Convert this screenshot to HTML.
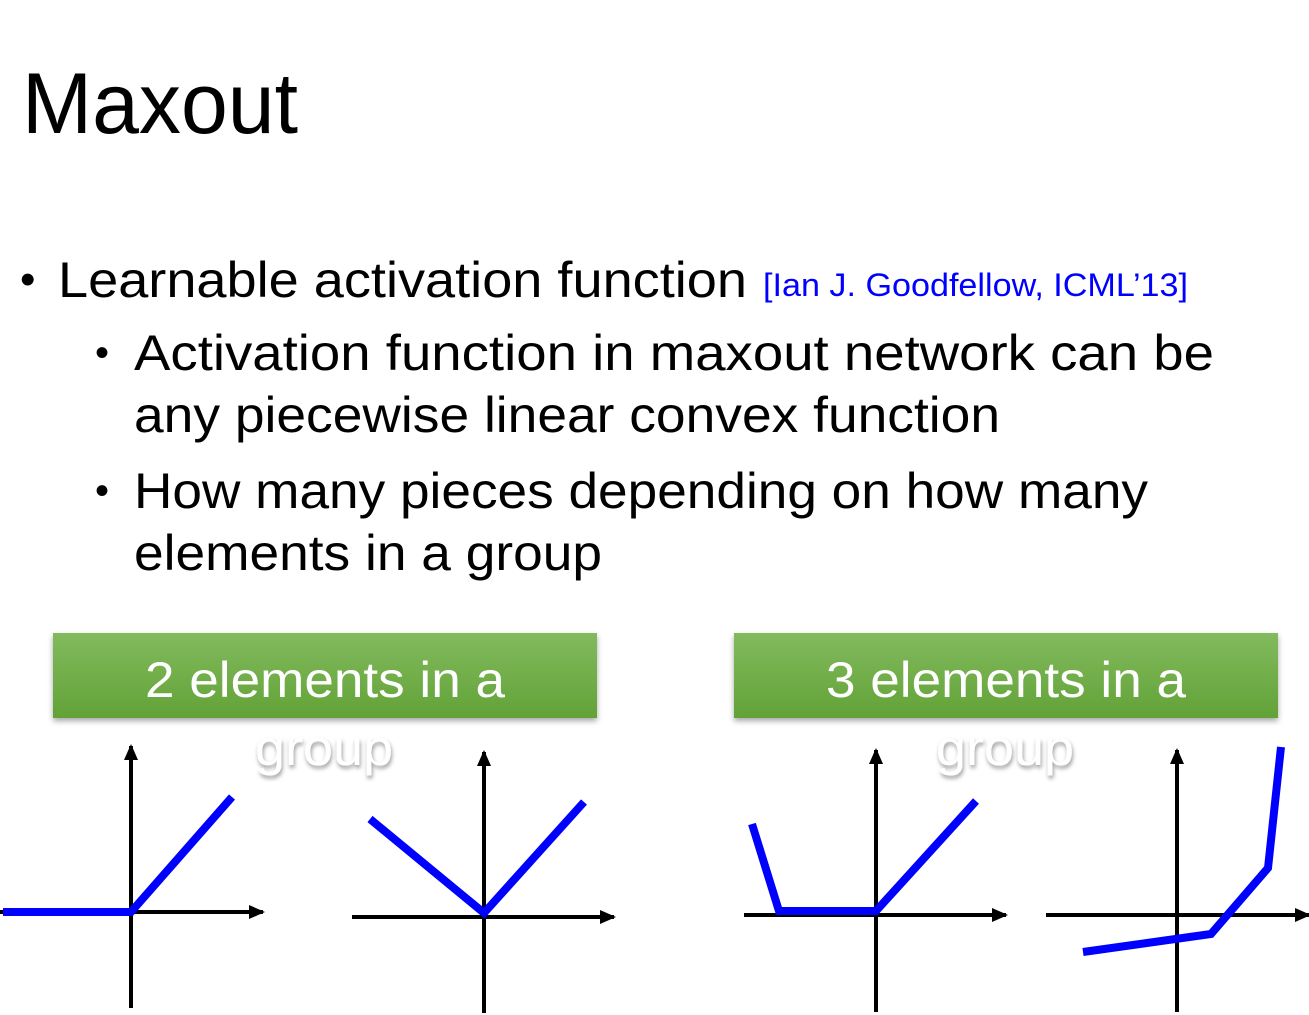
<!DOCTYPE html>
<html><head><meta charset="utf-8"><style>
html,body{margin:0;padding:0;background:#fff;width:1309px;height:1015px;overflow:hidden}
svg{display:block}
</style></head><body>
<svg width="1309" height="1015" viewBox="0 0 1309 1015" xmlns="http://www.w3.org/2000/svg" font-family="'Liberation Sans', sans-serif">
<defs>
<linearGradient id="g" x1="0" y1="0" x2="0" y2="1"><stop offset="0" stop-color="#82ba5e"/><stop offset="1" stop-color="#62a237"/></linearGradient>
<filter id="sh" x="-10%" y="-20%" width="120%" height="150%"><feDropShadow dx="0" dy="3" stdDeviation="3" flood-color="#000" flood-opacity="0.35"/></filter>
<filter id="ts"><feDropShadow dx="1" dy="3" stdDeviation="2" flood-color="#000" flood-opacity="0.4"/></filter>
<marker id="a" markerWidth="16" markerHeight="14" refX="14" refY="7" orient="auto" markerUnits="userSpaceOnUse"><path d="M0,0 L16,7 L0,14 z" fill="#000"/></marker>
</defs>
<text x="22" y="133" font-size="86" textLength="276" lengthAdjust="spacingAndGlyphs" fill="#000">Maxout</text>
<text x="20" y="294" font-size="44">•</text>
<text x="58" y="297" font-size="50" textLength="689" lengthAdjust="spacingAndGlyphs">Learnable activation function</text>
<text x="763" y="296" font-size="32" fill="#0000ff" textLength="425" lengthAdjust="spacingAndGlyphs">[Ian J. Goodfellow, ICML’13]</text>
<text x="95" y="366" font-size="40">•</text>
<text x="134" y="370" font-size="50" textLength="1080" lengthAdjust="spacingAndGlyphs">Activation function in maxout network can be</text>
<text x="134" y="432" font-size="50" textLength="866" lengthAdjust="spacingAndGlyphs">any piecewise linear convex function</text>
<text x="95" y="504" font-size="40">•</text>
<text x="134" y="508" font-size="50" textLength="1014" lengthAdjust="spacingAndGlyphs">How many pieces depending on how many</text>
<text x="134" y="570" font-size="50" textLength="468" lengthAdjust="spacingAndGlyphs">elements in a group</text>

<rect x="53" y="633" width="544" height="85" fill="url(#g)" filter="url(#sh)"/>
<rect x="734" y="633" width="544" height="85" fill="url(#g)" filter="url(#sh)"/>
<text x="145" y="697" font-size="50" fill="#fff" textLength="360" lengthAdjust="spacingAndGlyphs">2 elements in a</text>
<text x="826" y="697" font-size="50" fill="#fff" textLength="360" lengthAdjust="spacingAndGlyphs">3 elements in a</text>

<g stroke="#000" stroke-width="4" fill="none">
<line x1="131" y1="1008" x2="131" y2="746" marker-end="url(#a)"/>
<line x1="0" y1="912" x2="263" y2="912" marker-end="url(#a)"/>
<line x1="484" y1="1013" x2="484" y2="752" marker-end="url(#a)"/>
<line x1="352" y1="917" x2="614" y2="917" marker-end="url(#a)"/>
<line x1="876" y1="1012" x2="876" y2="750" marker-end="url(#a)"/>
<line x1="744" y1="915" x2="1006" y2="915" marker-end="url(#a)"/>
<line x1="1177" y1="1012" x2="1177" y2="750" marker-end="url(#a)"/>
<line x1="1046" y1="915" x2="1309" y2="915" marker-end="url(#a)"/>
</g>
<g stroke="#0000ff" stroke-width="8" fill="none" stroke-linejoin="miter">
<polyline points="3,912 131,912 232,797"/>
<polyline points="370,819 484,913 584,802"/>
<polyline points="752,824 779,911 876,911 976,801"/>
<polyline points="1083,952 1211,934 1268,868 1281,747"/>
</g>
<text x="255" y="765" font-size="50" fill="#fff" filter="url(#ts)" textLength="138" lengthAdjust="spacingAndGlyphs">group</text>
<text x="936" y="765" font-size="50" fill="#fff" filter="url(#ts)" textLength="138" lengthAdjust="spacingAndGlyphs">group</text>
</svg>
</body></html>
